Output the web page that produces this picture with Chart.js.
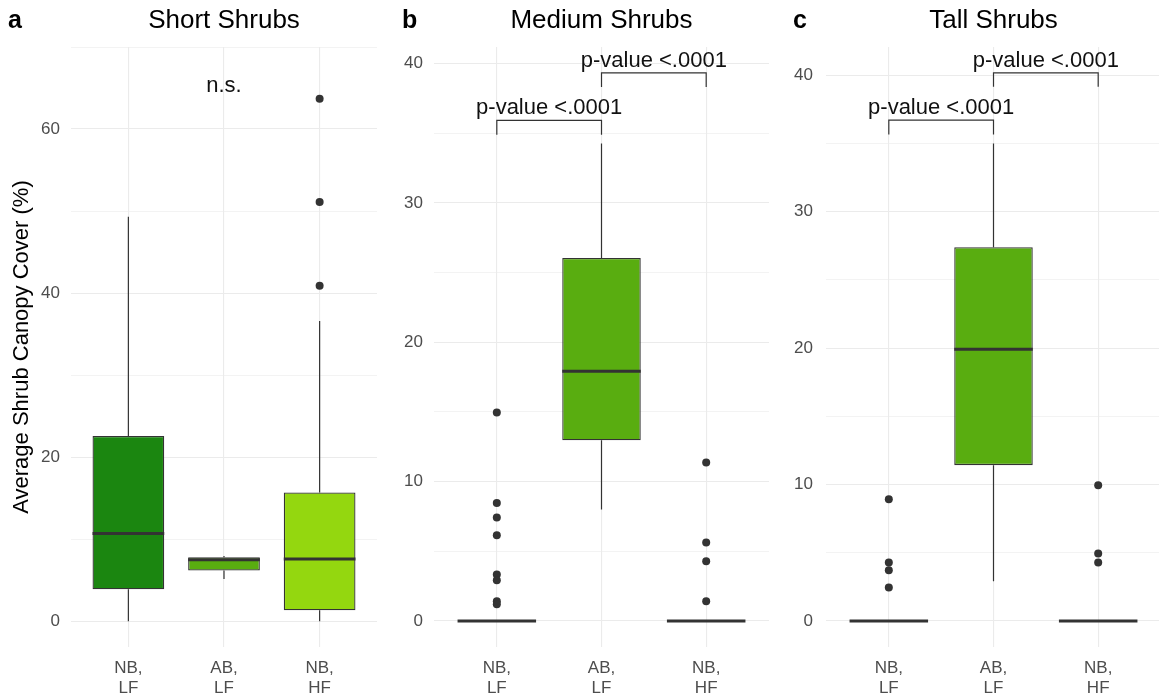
<!DOCTYPE html>
<html>
<head>
<meta charset="utf-8">
<script src="https://cdn.jsdelivr.net/npm/chart.js@4.4.1/dist/chart.umd.min.js"></script>
<style>
body { margin: 0; background: #fff; }
#wrap { position: relative; width: 1159px; height: 698px; overflow: hidden; }
canvas { position: absolute; top: 0; }
</style>
</head>
<body>
<div id="wrap">
<canvas id="panelA" width="381" height="698" style="left:0px"></canvas>
<canvas id="panelB" width="388" height="698" style="left:385px"></canvas>
<canvas id="panelC" width="390" height="698" style="left:775px"></canvas>
</div>
<script>
var groupLabels = [['NB,', 'LF'], ['AB,', 'LF'], ['NB,', 'HF']];
var groupPos = [1, 2, 3];

// short shrubs
var shortLow = [0, 5.15, 0];
var shortQ1 = [3.9, 6.2, 1.34];
var shortMed = [10.7, 7.5, 7.6];
var shortQ3 = [22.6, 7.8, 15.7];
var shortHigh = [49.3, 7.95, 36.6];
var shortOut = [[], [], [40.9, 51.1, 63.7]];
var shortColors = ['#1b8610', '#59ad10', '#94d70f'];

// medium shrubs
var medLow = [0, 8.0, 0];
var medQ1 = [0, 12.97, 0];
var medMed = [0, 17.92, 0];
var medQ3 = [0, 26.05, 0];
var medHigh = [0, 34.26, 0];
var medOut = [[14.96, 8.47, 7.42, 6.15, 3.33, 2.92, 1.41, 1.2], [], [11.37, 5.63, 4.28, 1.41]];

// tall shrubs
var tallLow = [0, 2.91, 0];
var tallQ1 = [0, 11.42, 0];
var tallMed = [0, 19.92, 0];
var tallQ3 = [0, 27.4, 0];
var tallHigh = [0, 34.99, 0];
var tallOut = [[8.92, 4.28, 3.72, 2.45], [], [9.95, 4.94, 4.28]];

var greenMid = '#59ad10';
var FONT = "'Liberation Sans', Arial, sans-serif";

function makePanel(id, p) {
    var ctx = document.getElementById(id).getContext('2d');

    var outliers = [];
    p.out.forEach(function(vals, i) {
        vals.forEach(function(v) { outliers.push({x: groupPos[i], y: v}); });
    });

    var extras = {
        id: 'boxExtras',
        beforeDatasetsDraw: function(chart) {
            var c = chart.ctx, ys = chart.scales.y;
            var bars = chart.getDatasetMeta(0).data;
            c.save();
            c.strokeStyle = '#333';
            c.lineWidth = 1.2;
            bars.forEach(function(bar, i) {
                c.beginPath();
                c.moveTo(bar.x, ys.getPixelForValue(p.low[i]));
                c.lineTo(bar.x, ys.getPixelForValue(p.q1[i]));
                c.moveTo(bar.x, ys.getPixelForValue(p.q3[i]));
                c.lineTo(bar.x, ys.getPixelForValue(p.high[i]));
                c.stroke();
            });
            c.restore();
        },
        afterDatasetDraw: function(chart, args) {
            if (args.index !== 0) return;
            var c = chart.ctx, ys = chart.scales.y;
            var bars = chart.getDatasetMeta(0).data;
            c.save();
            c.strokeStyle = '#333';
            c.lineWidth = 3;
            bars.forEach(function(bar, i) {
                var yy = ys.getPixelForValue(p.med[i]);
                c.beginPath();
                c.moveTo(bar.x - bar.width / 2, yy);
                c.lineTo(bar.x + bar.width / 2, yy);
                c.stroke();
            });
            c.restore();
        },
        afterDraw: function(chart) {
            var c = chart.ctx, xs = chart.scales.x, ys = chart.scales.y, area = chart.chartArea;
            c.save();
            c.fillStyle = '#000';
            c.font = 'bold 25px ' + FONT;
            c.textAlign = 'left';
            c.textBaseline = 'alphabetic';
            c.fillText(p.letter, p.letterX, 28);
            c.font = '26px ' + FONT;
            c.textAlign = 'center';
            c.fillText(p.title, (area.left + area.right) / 2, 28);

            c.font = '22px ' + FONT;
            c.fillStyle = '#111';
            if (p.ns) {
                c.fillText('n.s.', xs.getPixelForValue(2), ys.getPixelForValue(p.ns));
            }
            c.strokeStyle = '#333';
            c.lineWidth = 1.2;
            (p.brackets || []).forEach(function(b) {
                var x1 = xs.getPixelForValue(b[0]), x2 = xs.getPixelForValue(b[1]);
                var yt = ys.getPixelForValue(b[2]), yl = ys.getPixelForValue(b[3]);
                c.beginPath();
                c.moveTo(x1, yl);
                c.lineTo(x1, yt);
                c.lineTo(x2, yt);
                c.lineTo(x2, yl);
                c.stroke();
                c.fillText('p-value <.0001', (x1 + x2) / 2, yt - 6);
            });
            c.restore();
        }
    };

    return new Chart(ctx, {
        type: 'bar',
        data: {
            datasets: [{
                type: 'bar',
                data: groupPos.map(function(x, i) { return {x: x, y: [p.q1[i], p.q3[i]]}; }),
                backgroundColor: p.colors,
                borderColor: '#333',
                borderWidth: 1.3,
                borderSkipped: false,
                barPercentage: 0.75,
                categoryPercentage: 1.0
            }, {
                type: 'scatter',
                data: outliers,
                pointRadius: 4,
                pointBackgroundColor: '#333',
                pointBorderWidth: 0
            }]
        },
        options: {
            responsive: false,
            animation: false,
            layout: { padding: { top: 47, right: p.padRight, bottom: 0, left: 0 } },
            plugins: { legend: { display: false }, tooltip: { enabled: false } },
            scales: {
                x: {
                    type: 'linear',
                    min: 0.4,
                    max: 3.6,
                    offset: false,
                    afterFit: function(s) { s.height = 51; },
                    border: { display: false },
                    grid: { color: '#ebebeb', lineWidth: 1.1, drawTicks: false, offset: false },
                    ticks: {
                        stepSize: 1,
                        includeBounds: false,
                        padding: 11,
                        color: '#4d4d4d',
                        font: { family: FONT, size: 17, lineHeight: 20 / 17 },
                        maxRotation: 0,
                        autoSkip: false,
                        callback: function(v) { return groupLabels[v - 1] || ''; }
                    }
                },
                y: {
                    min: p.ymin,
                    max: p.ymax,
                    afterFit: function(s) { s.width = p.yWidth; },
                    border: { display: false },
                    grid: {
                        color: '#ebebeb',
                        drawTicks: false,
                        lineWidth: function(c) { return c.tick && c.tick.value % p.major === 0 ? 1.1 : 0.6; }
                    },
                    ticks: {
                        stepSize: p.major / 2,
                        includeBounds: false,
                        maxTicksLimit: 20,
                        autoSkip: false,
                        padding: p.tickPad,
                        color: '#4d4d4d',
                        font: { family: FONT, size: 17 },
                        callback: function(v) { return v % p.major === 0 ? String(v) : ''; }
                    },
                    title: {
                        display: !!p.yTitle,
                        text: p.yTitle || '',
                        color: '#000',
                        font: { family: FONT, size: 22 },
                        padding: { top: 9, bottom: 0 }
                    }
                }
            }
        },
        plugins: [extras]
    });
}

makePanel('panelA', {
    letter: 'a', letterX: 8, title: 'Short Shrubs',
    low: shortLow, q1: shortQ1, med: shortMed, q3: shortQ3, high: shortHigh, out: shortOut,
    colors: shortColors, ymin: -3.13, ymax: 70, major: 20, yWidth: 71, padRight: 1, tickPad: 11,
    yTitle: 'Average Shrub Canopy Cover (%)', ns: 64.5
});

makePanel('panelB', {
    letter: 'b', letterX: 17, title: 'Medium Shrubs',
    low: medLow, q1: medQ1, med: medMed, q3: medQ3, high: medHigh, out: medOut,
    colors: [greenMid, greenMid, greenMid], ymin: -1.87, ymax: 41.19, major: 10, yWidth: 49, padRight: 0, tickPad: 11,
    brackets: [[1, 2, 35.93, 34.9], [2, 3, 39.33, 38.32]]
});

makePanel('panelC', {
    letter: 'c', letterX: 18, title: 'Tall Shrubs',
    low: tallLow, q1: tallQ1, med: tallMed, q3: tallQ3, high: tallHigh, out: tallOut,
    colors: [greenMid, greenMid, greenMid], ymin: -1.91, ymax: 42.07, major: 10, yWidth: 51, padRight: 0, tickPad: 13,
    brackets: [[1, 2, 36.71, 35.66], [2, 3, 40.18, 39.15]]
});
</script>
</body>
</html>
